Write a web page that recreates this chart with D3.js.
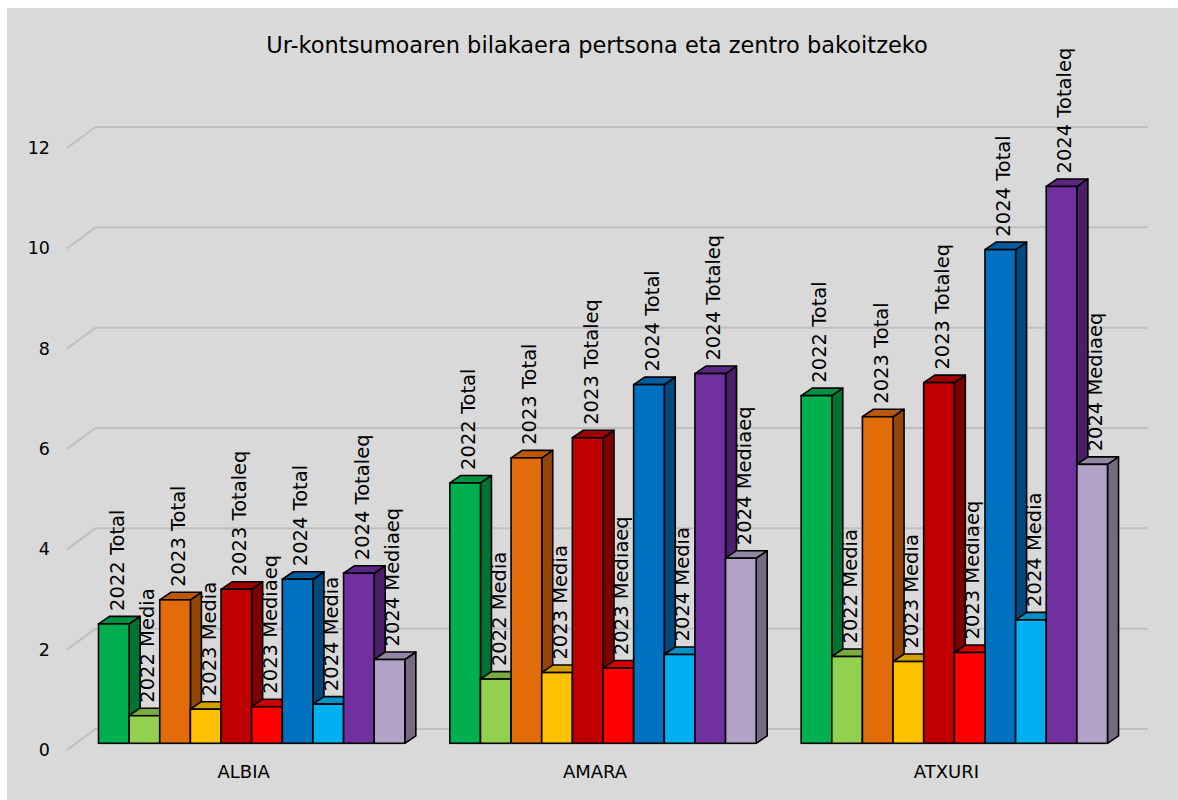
<!DOCTYPE html>
<html>
<head>
<meta charset="utf-8">
<script src="https://cdn.jsdelivr.net/npm/d3@7"></script>
<style>
  body { margin: 0; background: #fff; }
  text { font-family: "DejaVu Sans", Verdana, sans-serif; fill: #000; }
</style>
</head>
<body>
<div id="chart"></div>
<script>
var categories = ["ALBIA", "AMARA", "ATXURI"];

var seriesNames = ["2022 Total", "2022 Media", "2023 Total", "2023 Media", "2023 Totaleq",
  "2023 Mediaeq", "2024 Total", "2024 Media", "2024 Totaleq", "2024 Mediaeq"];

var seriesColors = ["#00b050", "#92d050", "#e36c0a", "#ffc000", "#c00000",
  "#ff0000", "#0070c0", "#00b0f0", "#7030a0", "#b3a2c7"];

// one array per series, order = categories
var v2022Total    = [2.38, 5.19, 6.93];
var v2022Media    = [0.55, 1.28, 1.73];
var v2023Total    = [2.86, 5.69, 6.51];
var v2023Media    = [0.68, 1.41, 1.63];
var v2023Totaleq  = [3.07, 6.09, 7.19];
var v2023Mediaeq  = [0.73, 1.50, 1.81];
var v2024Total    = [3.27, 7.15, 9.84];
var v2024Media    = [0.78, 1.77, 2.46];
var v2024Totaleq  = [3.39, 7.37, 11.1];
var v2024Mediaeq  = [1.67, 3.69, 5.56];

var seriesValues = [v2022Total, v2022Media, v2023Total, v2023Media, v2023Totaleq,
  v2023Mediaeq, v2024Total, v2024Media, v2024Totaleq, v2024Mediaeq];

var yTicks = [0, 2, 4, 6, 8, 10, 12];

var W = 1178, H = 800;

// 3d offsets
var WALL_DX = 28.5, WALL_DY = -21;   // front plane -> back wall
var BAR_DX = 9, BAR_DY = -6.7;       // front plane -> bar front face
var DEPTH_DX = 11, DEPTH_DY = -7.5;  // bar depth

var svg = d3.select("#chart").append("svg")
  .attr("width", W)
  .attr("height", H);

svg.append("rect")
  .attr("x", 7).attr("y", 8)
  .attr("width", W - 7).attr("height", H - 8)
  .attr("fill", "#d9d9d9");

svg.append("text")
  .attr("x", 597)
  .attr("y", 53)
  .attr("text-anchor", "middle")
  .style("font-size", "22.5px")
  .text("Ur-kontsumoaren bilakaera pertsona eta zentro bakoitzeko");

var x0 = d3.scaleBand()
  .domain(categories)
  .range([67, 1121])
  .paddingInner(0.128)
  .paddingOuter(0.064);

var x1 = d3.scaleBand()
  .domain(seriesNames)
  .range([0, x0.bandwidth()]);

var y = d3.scaleLinear()
  .domain([0, 12])
  .range([750, 148]);

// gridlines: diagonal on the side wall + horizontal on the back wall
var grid = svg.append("g").attr("class", "grid");
grid.selectAll(".diag")
  .data(yTicks)
  .enter()
  .append("line")
  .attr("x1", 67)
  .attr("y1", function(d) { return y(d); })
  .attr("x2", 67 + WALL_DX)
  .attr("y2", function(d) { return y(d) + WALL_DY; })
  .attr("stroke", "#bfbfbf")
  .attr("stroke-width", 2);
grid.selectAll(".back")
  .data(yTicks)
  .enter()
  .append("line")
  .attr("x1", 67 + WALL_DX)
  .attr("y1", function(d) { return y(d) + WALL_DY; })
  .attr("x2", 1148)
  .attr("y2", function(d) { return y(d) + WALL_DY; })
  .attr("stroke", "#bfbfbf")
  .attr("stroke-width", 2);

// y axis labels
var yAxis = d3.axisLeft(y)
  .tickValues(yTicks)
  .tickSize(0)
  .tickPadding(0);
var yg = svg.append("g")
  .attr("transform", "translate(50,0)")
  .call(yAxis);
yg.select(".domain").remove();
yg.selectAll("text")
  .style("font-size", "17.5px")
  .style("font-family", "DejaVu Sans, Verdana, sans-serif")
  .attr("fill", "#000");

// category labels
var xAxis = d3.axisBottom(x0).tickSize(0).tickPadding(0);
var xg = svg.append("g")
  .attr("transform", "translate(1,765)")
  .call(xAxis);
xg.select(".domain").remove();
xg.selectAll("text")
  .style("font-size", "18px")
  .style("font-family", "DejaVu Sans, Verdana, sans-serif")
  .attr("fill", "#000");

// bar data
var bars = [];
categories.forEach(function(c, ci) {
  seriesNames.forEach(function(s, si) {
    bars.push({
      cat: c,
      name: s,
      value: seriesValues[si][ci],
      color: seriesColors[si]
    });
  });
});

var barG = svg.append("g").attr("class", "bars");

var bar = barG.selectAll(".bar")
  .data(bars)
  .enter()
  .append("g")
  .attr("class", "bar")
  .attr("transform", function(d) {
    return "translate(" + (x0(d.cat) + x1(d.name) + BAR_DX) + "," + BAR_DY + ")";
  });

var bw = x1.bandwidth();

function facePts(pts) {
  return pts.map(function(p) { return p[0] + "," + p[1]; }).join(" ");
}

// side face
bar.append("polygon")
  .attr("points", function(d) {
    var t = y(d.value), b = y(0);
    return facePts([[bw, b], [bw + DEPTH_DX, b + DEPTH_DY], [bw + DEPTH_DX, t + DEPTH_DY], [bw, t]]);
  })
  .attr("fill", function(d) { return d3.color(d.color).darker(1.2); })
  .attr("stroke", "#000")
  .attr("stroke-width", 1.6)
  .attr("stroke-linejoin", "round");

// top face
bar.append("polygon")
  .attr("points", function(d) {
    var t = y(d.value);
    return facePts([[0, t], [DEPTH_DX, t + DEPTH_DY], [bw + DEPTH_DX, t + DEPTH_DY], [bw, t]]);
  })
  .attr("fill", function(d) { return d3.color(d.color).darker(0.55); })
  .attr("stroke", "#000")
  .attr("stroke-width", 1.6)
  .attr("stroke-linejoin", "round");

// front face
bar.append("rect")
  .attr("x", 0)
  .attr("y", function(d) { return y(d.value); })
  .attr("width", bw)
  .attr("height", function(d) { return y(0) - y(d.value); })
  .attr("fill", function(d) { return d.color; })
  .attr("stroke", "#000")
  .attr("stroke-width", 1.6);

// rotated labels on top
barG.selectAll(".lbl")
  .data(bars)
  .enter()
  .append("text")
  .attr("class", "lbl")
  .attr("transform", function(d) {
    var lx = x0(d.cat) + x1(d.name) + BAR_DX + bw / 2 + 3;
    var ly = y(d.value) + BAR_DY - 13;
    return "translate(" + lx + "," + ly + ") rotate(-90)";
  })
  .attr("dy", "0.35em")
  .style("font-size", "19.5px")
  .text(function(d) { return d.name; });
</script>
</body>
</html>
